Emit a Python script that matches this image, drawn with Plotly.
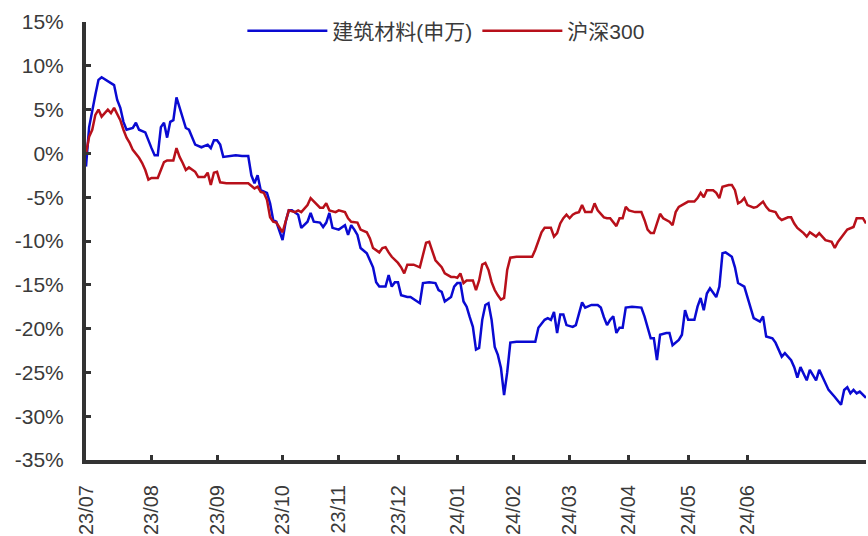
import plotly.graph_objects as go

# 建筑材料(申万) cumulative return (%), by trading day since 2023-07 start
jc_day = [0, 1, 3, 4, 5, 7, 9, 10, 11, 12, 13, 15, 16, 17, 19, 21, 22, 23, 24, 25,
          26, 27, 28, 29, 30, 31, 32, 33, 35, 37, 39, 40, 41, 42, 43, 44, 46, 48, 50, 52,
          53, 54, 55, 56, 58, 59, 60, 61, 63, 64, 65, 66, 68, 69, 71, 72, 73, 75, 76, 77,
          78, 79, 81, 83, 84, 85, 86, 87, 88, 90, 92, 93, 94, 96, 97, 98, 99, 100, 101, 103,
          104, 106, 107, 108, 110, 112, 113, 114, 115, 117, 118, 119, 120, 121, 122, 123, 124, 125, 126, 127,
          128, 129, 130, 131, 132, 133, 134, 135, 136, 138, 141, 144, 145, 147, 148, 149, 150, 151, 152, 153,
          154, 156, 157, 158, 159, 160, 162, 164, 165, 166, 167, 168, 169, 170, 171, 172, 173, 175, 178, 179,
          180, 181, 182, 183, 184, 186, 187, 188, 190, 191, 192, 193, 195, 196, 197, 198, 199, 200, 202, 203,
          204, 205, 207, 208, 209, 211, 212, 213, 214, 216, 217, 218, 220, 221, 223, 224, 226, 227, 228, 229,
          231, 232, 234, 235, 237, 238, 240, 242, 243, 244, 245, 246, 247, 248, 250]
jc_ret = [-1.5, 3.0, 6.7, 8.4, 8.7, 8.2, 7.8, 6.1, 5.2, 3.6, 2.7, 2.9, 3.5, 2.7, 2.4, 0.6, -0.2, -0.2, 3.0, 3.5,
          1.8, 3.6, 3.8, 6.4, 5.3, 4.0, 2.9, 2.7, 1.0, 0.7, 1.0, 0.6, 1.5, 1.5, 1.0, -0.4, -0.3, -0.2, -0.3, -0.3,
          -2.5, -3.4, -2.5, -4.2, -4.5, -5.7, -7.6, -7.8, -9.9, -7.8, -6.5, -6.5, -7.0, -8.5, -7.8, -6.8, -7.8, -7.9, -8.4, -7.9,
          -6.8, -8.5, -8.7, -8.2, -9.3, -8.2, -8.7, -9.3, -10.8, -11.4, -13.0, -14.7, -15.2, -15.2, -13.9, -15.2, -14.7, -14.7, -16.2, -16.4,
          -16.4, -16.9, -17.1, -14.8, -14.7, -14.8, -15.6, -15.8, -16.9, -16.4, -15.2, -14.8, -14.8, -16.9, -17.5, -18.7, -19.8, -22.4, -22.2, -19.0,
          -17.3, -17.1, -19.0, -22.1, -23.0, -24.5, -27.6, -25.0, -21.6, -21.5, -21.5, -21.5, -19.9, -19.0, -18.8, -19.0, -18.1, -20.5, -18.4, -18.4,
          -19.6, -19.8, -19.6, -18.2, -17.0, -17.6, -17.3, -17.3, -17.6, -18.7, -19.6, -19.0, -18.6, -20.5, -19.9, -19.9, -17.6, -17.5, -17.6, -18.6,
          -19.8, -21.1, -21.1, -23.6, -20.7, -20.5, -20.5, -21.9, -21.3, -20.7, -17.9, -19.0, -19.0, -17.5, -16.5, -17.9, -16.0, -15.4, -16.4, -15.2,
          -11.4, -11.3, -11.8, -13.0, -14.8, -15.2, -16.4, -17.5, -18.8, -19.2, -18.6, -20.9, -21.1, -21.6, -23.2, -22.8, -23.6, -24.4, -25.6, -24.4,
          -25.9, -24.7, -25.9, -24.7, -26.2, -27.0, -27.8, -28.7, -27.0, -26.7, -27.4, -27.0, -27.4, -27.2, -27.9]

# 沪深300 cumulative return (%)
hs_day = [0, 1, 2, 3, 4, 5, 7, 8, 9, 10, 11, 12, 13, 14, 15, 17, 18, 19, 20, 21,
          23, 24, 25, 26, 28, 29, 30, 31, 32, 33, 35, 36, 38, 39, 40, 41, 42, 43, 45, 48,
          52, 54, 55, 56, 57, 58, 59, 60, 61, 63, 64, 65, 67, 68, 69, 71, 72, 74, 75, 76,
          77, 78, 80, 81, 83, 84, 85, 87, 88, 90, 91, 92, 94, 95, 96, 97, 98, 100, 101, 102,
          103, 105, 107, 108, 109, 110, 111, 112, 114, 115, 117, 118, 119, 120, 121, 122, 124, 125, 126, 127,
          128, 129, 130, 131, 132, 133, 134, 135, 136, 138, 141, 143, 144, 146, 147, 149, 150, 151, 152, 153,
          154, 155, 156, 157, 158, 159, 160, 162, 163, 164, 166, 167, 168, 169, 170, 171, 172, 173, 174, 176,
          178, 179, 180, 181, 182, 183, 184, 185, 187, 188, 189, 190, 192, 193, 195, 196, 197, 198, 199, 201,
          202, 203, 204, 206, 207, 208, 209, 210, 211, 212, 214, 215, 217, 218, 219, 221, 222, 223, 225, 226,
          227, 228, 230, 231, 232, 234, 235, 236, 237, 239, 240, 241, 243, 244, 246, 247, 249, 250]
hs_ret = [0.0, 1.9, 2.7, 4.4, 5.0, 4.2, 5.0, 4.6, 5.2, 4.4, 3.8, 2.7, 1.8, 1.2, 0.4, -0.5, -1.1, -1.9, -3.0, -2.8,
          -2.8, -1.9, -1.0, -0.8, -0.8, 0.6, -0.4, -1.1, -1.9, -1.6, -2.1, -2.7, -2.7, -2.2, -3.6, -2.2, -2.1, -3.3, -3.4, -3.4,
          -3.4, -4.0, -3.8, -4.4, -4.5, -5.3, -7.3, -7.8, -7.9, -9.0, -7.8, -6.5, -6.7, -6.5, -6.7, -5.9, -5.1, -5.9, -6.2, -6.2,
          -5.7, -6.5, -6.7, -6.5, -6.7, -7.4, -7.8, -7.9, -8.7, -9.0, -9.7, -10.8, -11.3, -10.8, -10.7, -11.3, -11.8, -12.5, -13.0, -13.7,
          -12.7, -12.7, -13.0, -11.6, -10.2, -10.1, -11.3, -12.2, -13.0, -13.7, -14.1, -14.1, -14.2, -13.7, -14.8, -14.5, -14.5, -15.6, -14.5, -12.7,
          -12.5, -13.3, -14.7, -15.6, -16.2, -16.7, -16.5, -13.3, -11.9, -11.8, -11.8, -11.8, -11.0, -9.0, -8.5, -8.5, -9.5, -9.1, -8.0, -7.4,
          -7.0, -7.4, -7.0, -6.8, -6.7, -5.9, -6.7, -6.7, -5.7, -6.5, -7.3, -7.4, -7.4, -7.8, -8.3, -7.4, -7.4, -6.1, -6.5, -6.7,
          -6.7, -7.6, -8.7, -9.1, -9.1, -8.0, -6.9, -7.4, -7.8, -8.2, -6.7, -6.1, -5.7, -5.5, -5.5, -5.1, -4.5, -5.0, -4.2, -4.2,
          -4.5, -5.1, -3.8, -3.6, -3.6, -4.2, -5.7, -5.5, -5.1, -5.9, -6.2, -6.1, -5.5, -6.1, -6.5, -6.7, -7.3, -7.6, -7.3, -7.3,
          -8.0, -8.5, -9.1, -9.5, -9.0, -9.5, -9.1, -9.5, -9.9, -10.1, -10.8, -10.1, -9.1, -8.7, -8.4, -7.4, -7.4, -8.0]

# Month labels and the trading-day positions they sit on
month_pos = [0, 21, 42, 63, 81, 100, 119, 137, 155, 174, 193, 212]
month_lbl = ["23/07", "23/08", "23/09", "23/10", "23/11", "23/12",
             "24/01", "24/02", "24/03", "24/04", "24/05", "24/06"]

y_ticks = [15, 10, 5, 0, -5, -10, -15, -20, -25, -30, -35]
y_lbl = [f"{v}%" for v in y_ticks]

FONT = "Liberation Sans, Arial, Noto Sans CJK SC, sans-serif"
AXIS_COLOR = "#333333"
TEXT_COLOR = "#3a3a3a"

fig = go.Figure()
fig.add_trace(go.Scatter(x=jc_day, y=jc_ret, mode="lines", name="建筑材料(申万)",
                         line=dict(color="#0A0AD2", width=2.5)))
fig.add_trace(go.Scatter(x=hs_day, y=hs_ret, mode="lines", name="沪深300",
                         line=dict(color="#B8101A", width=2.5)))

fig.update_layout(
    width=868, height=536,
    margin=dict(l=86, r=2, t=22, b=76),
    paper_bgcolor="white", plot_bgcolor="white",
    font=dict(family=FONT, color=TEXT_COLOR, size=20),
    showlegend=True,
    legend=dict(orientation="h", x=0.462, xanchor="center", y=0.979, yanchor="middle",
                font=dict(size=21, color=TEXT_COLOR), bgcolor="rgba(0,0,0,0)",
                itemwidth=80),
)
fig.update_xaxes(
    range=[0, 250], showgrid=False, zeroline=False,
    showline=True, linecolor=AXIS_COLOR, linewidth=4,
    ticks="inside", ticklen=5, tickwidth=3, tickcolor=AXIS_COLOR,
    tickvals=month_pos, ticktext=month_lbl, tickangle=-90,
    tickfont=dict(size=20, color=TEXT_COLOR), ticklabelstandoff=13,
)
fig.update_yaxes(
    range=[-35, 15], showgrid=False, zeroline=False,
    showline=True, linecolor=AXIS_COLOR, linewidth=4,
    ticks="inside", ticklen=5, tickwidth=3, tickcolor=AXIS_COLOR,
    tickvals=y_ticks, ticktext=y_lbl,
    tickfont=dict(size=21, color=TEXT_COLOR), ticklabelstandoff=14,
)

fig.write_html("out.html")
